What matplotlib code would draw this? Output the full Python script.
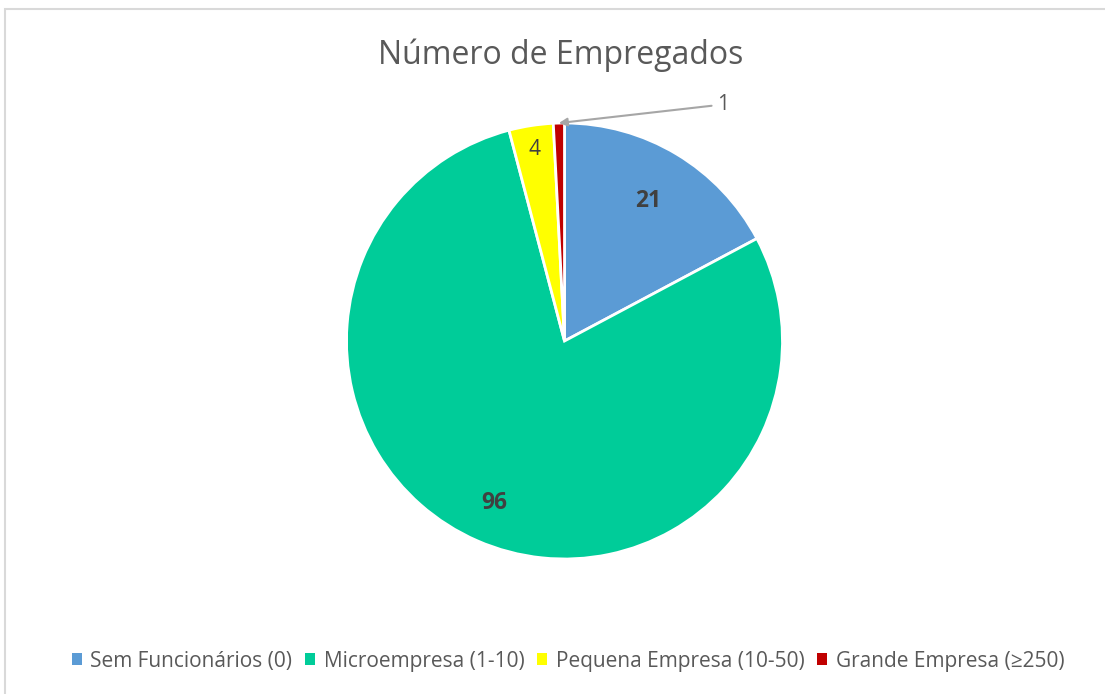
import numpy as np
import matplotlib.pyplot as plt
from matplotlib.patches import Rectangle

categorias = ['Sem Funcionários (0)', 'Microempresa (1-10)', 'Pequena Empresa (10-50)', 'Grande Empresa (≥250)']
valores = [21, 96, 4, 1]
cores = ['#5B9BD5', '#00CC99', '#FFFF00', '#C00000']

plt.rcParams['font.family'] = ['Open Sans', 'DejaVu Sans']

W, H = 1105, 694
fig = plt.figure(figsize=(W / 100, H / 100), dpi=100)

# moldura cinza clara (so aparecem os lados esquerdo e de cima)
fig.patches.append(Rectangle((5 / W, -0.1), 1.2, (H - 9) / H + 0.1, transform=fig.transFigure,
                             fill=False, edgecolor='#D9D9D9', linewidth=1.5))

cx, cy, r = 564.5, 341, 218
ax = fig.add_axes([(cx - r) / W, (H - cy - r) / H, 2 * r / W, 2 * r / H])
wedges, _ = ax.pie(valores, colors=cores, startangle=90, counterclock=False, radius=1,
                   wedgeprops=dict(edgecolor='white', linewidth=2))
ax.set_xlim(-1, 1)
ax.set_ylim(-1, 1)
ax.set_aspect('equal')
ax.axis('off')

# rotulos de dados
dist = [0.75, 0.81, 0.89]
pesos = ['bold', 'bold', 'normal']
tamanhos = [16.5, 16.5, 15]
for i in range(3):
    w = wedges[i]
    ang = np.deg2rad((w.theta1 + w.theta2) / 2)
    ax.text(dist[i] * np.cos(ang), dist[i] * np.sin(ang), str(valores[i]), ha='center', va='center',
            fontsize=tamanhos[i], color='#404040', fontweight=pesos[i])

w = wedges[3]
ang = np.deg2rad((w.theta1 + w.theta2) / 2)
ax.annotate(str(valores[3]), xy=(np.cos(ang), np.sin(ang)), xytext=(0.70, 1.085),
            ha='left', va='center', fontsize=15, color='#595959', annotation_clip=False,
            arrowprops=dict(arrowstyle='-|>', color='#A6A6A6', lw=1.5, shrinkA=2, shrinkB=0,
                            mutation_scale=12))

fig.text(561 / W, 1 - 55 / H, 'Número de Empregados', ha='center', va='center', fontsize=23, color='#595959')

handles = [Rectangle((0, 0), 1, 1, facecolor=c) for c in cores]
leg = fig.legend(handles, categorias, loc='center', bbox_to_anchor=(568 / W, 1 - 661 / H), ncol=4,
                 frameon=False, fontsize=15, labelcolor='#595959', handlelength=0.5, handleheight=0.5,
                 handletextpad=0.4, columnspacing=0.6)

fig.savefig('out.png', dpi=100, facecolor='white')
